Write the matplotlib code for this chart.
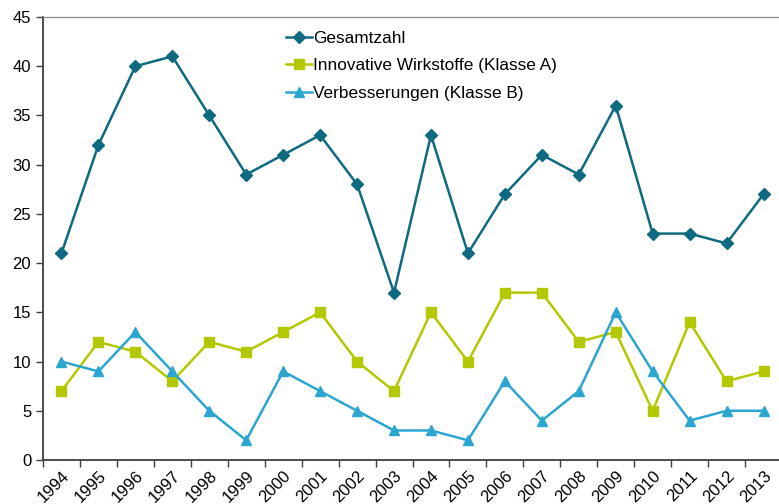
import matplotlib.pyplot as plt

years = [str(y) for y in range(1994, 2014)]
gesamt = [21, 32, 40, 41, 35, 29, 31, 33, 28, 17, 33, 21, 27, 31, 29, 36, 23, 23, 22, 27]
klasse_a = [7, 12, 11, 8, 12, 11, 13, 15, 10, 7, 15, 10, 17, 17, 12, 13, 5, 14, 8, 9]
klasse_b = [10, 9, 13, 9, 5, 2, 9, 7, 5, 3, 3, 2, 8, 4, 7, 15, 9, 4, 5, 5]

plt.rcParams['font.family'] = ['Liberation Sans', 'DejaVu Sans']

fig = plt.figure(figsize=(7.79, 5.04), dpi=100)
ax = fig.add_axes([43/779, 44/504, 739/779, 443/504])

x = list(range(len(years)))
ax.plot(x, gesamt, color='#0e6a80', marker='D', markersize=6, lw=1.8, label='Gesamtzahl')
ax.plot(x, klasse_a, color='#b4c800', marker='s', markersize=6.5, lw=1.8, label='Innovative Wirkstoffe (Klasse A)')
ax.plot(x, klasse_b, color='#2ba6d0', marker='^', markersize=7.5, lw=1.8, label='Verbesserungen (Klasse B)')

ax.set_xlim(-0.5, len(years) - 0.5)
ax.set_ylim(0, 45)
ax.set_yticks(range(0, 46, 5))
ax.tick_params(axis='y', labelsize=12, length=5, width=1, color='#404040', direction='out')

# category ticks at boundaries, labels at centres
ax.set_xticks([i - 0.5 for i in x])
ax.set_xticklabels([])
ax.set_xticks(x, minor=True)
ax.set_xticklabels(years, minor=True, rotation=45, ha='right', rotation_mode='anchor', fontsize=12)
ax.tick_params(axis='x', which='major', length=5, width=1, color='#404040')
ax.tick_params(axis='x', which='minor', length=0, pad=6)

ax.spines['right'].set_visible(False)
ax.spines['top'].set_color('#909090')
ax.spines['top'].set_linewidth(1)
for s in ['left', 'bottom']:
    ax.spines[s].set_color('#404040')
    ax.spines[s].set_linewidth(1.3)

ax.legend(loc='upper left', bbox_to_anchor=(0.31, 1.0), frameon=False, fontsize=12.4,
          handlelength=1.5, handletextpad=0.1, labelspacing=0.72, borderaxespad=0.4)

fig.savefig('out.png', dpi=100)
